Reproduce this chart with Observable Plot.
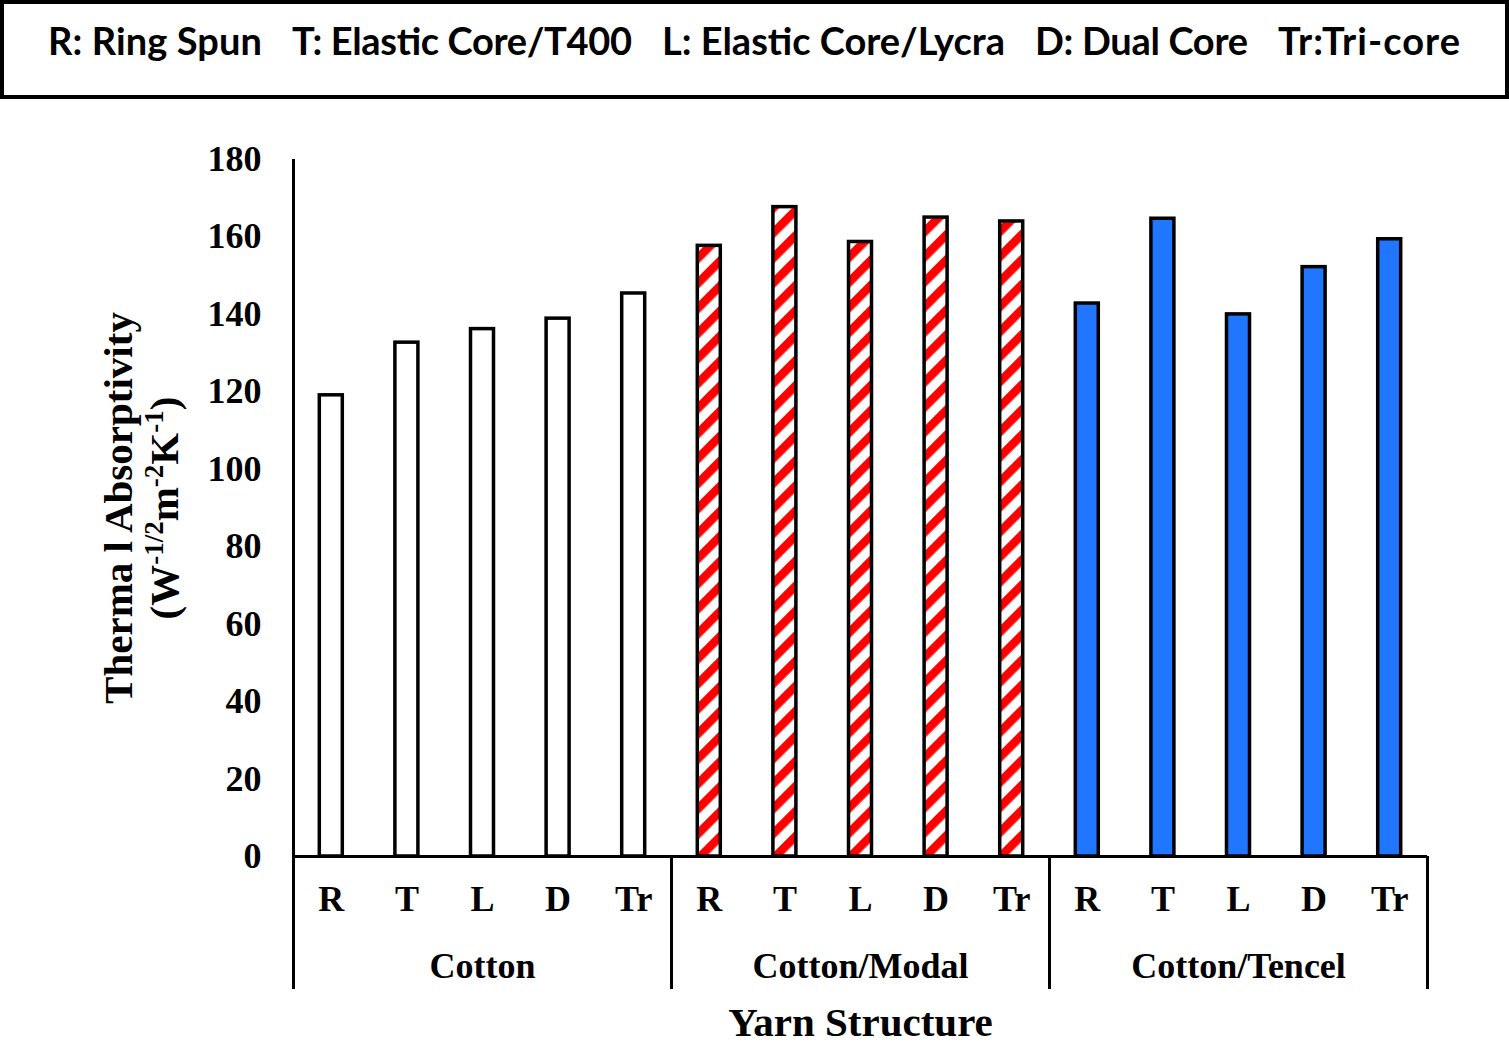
<!DOCTYPE html>
<html>
<head>
<meta charset="utf-8">
<script src="https://cdn.jsdelivr.net/npm/d3@7"></script>
<script src="https://cdn.jsdelivr.net/npm/@observablehq/plot@0.6"></script>
<style>
  html, body { margin: 0; padding: 0; background: #fff; }
  #legend { display: block; }
  #chart svg { display: block; }
</style>
</head>
<body>
<svg id="legend" width="1509" height="99"></svg>
<div id="chart"></div>
<script>
// ---- data ----
const groups = ["Cotton", "Cotton/Modal", "Cotton/Tencel"];
const structures = ["R", "T", "L", "D", "Tr"];
const cottonValues = [119.1, 132.7, 136.2, 138.9, 145.4];
const modalValues = [157.7, 167.7, 158.7, 165.0, 164.0];
const tencelValues = [142.8, 164.7, 140.0, 152.2, 159.4];
const yTicks = [0, 20, 40, 60, 80, 100, 120, 140, 160, 180];
const legendItems = ["R: Ring Spun", "T: Elastic Core/T400", "L: Elastic Core/Lycra", "D: Dual Core", "Tr:Tri-core"];
const xTitle = "Yarn Structure";
const yTitle1 = "Therma l Absorptivity";

// ---- build table ----
const seriesValues = [cottonValues, modalValues, tencelValues];
const fills = ["white", "url(#redStripes)", "#2176FF"];
const rows = [];
groups.forEach((g, gi) => structures.forEach((s, si) => {
  rows.push({group: g, gi, s, i: gi * structures.length + si, v: seriesValues[gi][si]});
}));
const nCats = rows.length;
const boundaries = groups.map((g, gi) => gi * structures.length).concat([nCats]);

// ---- legend ----
const legend = d3.select("#legend");
legend.append("rect").attr("x", 2).attr("y", 2).attr("width", 1505).attr("height", 95)
  .attr("fill", "white").attr("stroke", "black").attr("stroke-width", 4);
const legendX = [48, 292, 662, 1035, 1278];
const legendW = [214, 340, 343, 213, 182];
legendItems.forEach((t, k) => {
  legend.append("text").attr("x", legendX[k]).attr("y", 55)
    .attr("font-family", "Lato, 'Open Sans', sans-serif").attr("font-weight", "bold")
    .attr("font-size", 38).attr("textLength", legendW[k]).attr("fill", "black").text(t);
});

// ---- chart ----
const serif = "'Liberation Serif', 'Times New Roman', serif";
const defs = () => {
  const d = d3.create("svg:defs");
  const p = d.append("pattern").attr("id", "redStripes").attr("patternUnits", "userSpaceOnUse")
    .attr("width", 17.7).attr("height", 17.7).attr("patternTransform", "rotate(45)");
  p.append("rect").attr("width", 17.7).attr("height", 17.7).attr("fill", "white");
  p.append("rect").attr("width", 8.5).attr("height", 17.7).attr("fill", "#FF0000");
  return d.node();
};

const plot = Plot.plot({
  width: 1509,
  height: 945,
  marginTop: 60,
  marginBottom: 188,
  marginLeft: 293,
  marginRight: 82,
  style: {fontFamily: serif, background: "white", overflow: "visible"},
  x: {type: "linear", domain: [0, nCats], axis: null},
  y: {domain: [0, 180], ticks: yTicks, axis: null},
  marks: [
    defs,
    Plot.axisY({ticks: yTicks, tickSize: 0, tickPadding: 32, fontSize: 36, fontWeight: "bold", fontFamily: serif, fill: "black"}),
    ...groups.map((g, gi) => Plot.rectY(rows.filter(r => r.gi === gi), {
      x1: d => d.i, x2: d => d.i + 1, y1: 0, y2: d => d.v,
      insetLeft: 26.3, insetRight: 26.3,
      fill: fills[gi], stroke: "black", strokeWidth: 3.5
    })),
    Plot.ruleX([0], {y1: 0, y2: 180, stroke: "black", strokeWidth: 3}),
    Plot.ruleY([0], {x1: 0, x2: nCats, stroke: "black", strokeWidth: 3}),
    Plot.ruleX(boundaries, {y1: 0, y2: 0, insetBottom: -133, stroke: "black", strokeWidth: 3}),
    Plot.text(rows, {x: d => d.i + 0.5, y: 0, text: d => d.s, dy: 43, fontSize: 36, fontWeight: "bold", fontFamily: serif, fill: "black"}),
    Plot.text(groups, {x: (g, gi) => gi * structures.length + structures.length / 2, y: 0, text: g => g, dy: 109.5, fontSize: 36, fontWeight: "bold", fontFamily: serif, fill: "black"}),
    Plot.text([xTitle], {x: nCats / 2, y: 0, text: d => d, dy: 166, fontSize: 41, fontWeight: "bold", fontFamily: serif, fill: "black"})
  ]
});
document.getElementById("chart").appendChild(plot);

// ---- y title with superscripts ----
const svg = d3.select(plot);
const cy = 409;
svg.append("text").attr("transform", `translate(132,${cy}) rotate(-90)`)
  .attr("text-anchor", "middle").attr("font-family", serif).attr("font-weight", "bold")
  .attr("font-size", 41).attr("fill", "black").text(yTitle1);
const t2 = svg.append("text").attr("transform", `translate(178,${cy}) rotate(-90)`)
  .attr("text-anchor", "middle").attr("font-family", serif).attr("font-weight", "bold")
  .attr("font-size", 41).attr("fill", "black");
const parts = [["(W", false], ["-1/2", true], ["m", false], ["-2", true], ["K", false], ["-1", true], [")", false]];
let up = false;
parts.forEach(([txt, sup]) => {
  const ts = t2.append("tspan").text(txt);
  if (sup && !up) { ts.attr("dy", -15).attr("font-size", 27); up = true; }
  else if (sup) { ts.attr("font-size", 27); }
  else if (!sup && up) { ts.attr("dy", 15); up = false; }
});
</script>
</body>
</html>
